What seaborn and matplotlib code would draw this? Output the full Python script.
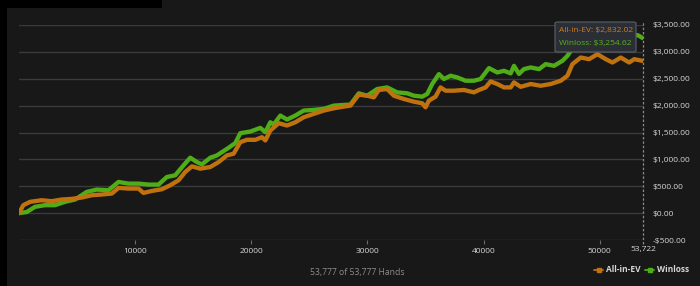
import matplotlib
matplotlib.use("Agg")
import matplotlib.pyplot as plt
import seaborn as sns
import pandas as pd
from matplotlib.patches import Rectangle, FancyBboxPatch
from matplotlib.lines import Line2D
from matplotlib.ticker import FuncFormatter

# ---------------- data ----------------
ev_hands = [0, 373, 948, 1954, 2816, 3678, 4540, 5402, 6264, 7126, 7989, 8563, 9425,
            10287, 10718, 11437, 12299, 13017, 13736, 14310, 14885, 15603, 16466, 17184,
            17902, 18477, 19052, 19626, 20345, 20920, 21207, 21638, 22356, 23075, 23793,
            24511, 25374, 26236, 27098, 27960, 28534, 29253, 29971, 30546, 30977, 31695,
            32270, 33132, 33994, 34713, 35000, 35287, 35862, 36293, 36724, 37442, 38305,
            39167, 39598, 40172, 40603, 41178, 41753, 42328, 42615, 43190, 44052, 44914,
            45776, 46638, 47213, 47644, 48362, 49080, 49799, 50517, 51092, 51810, 52529,
            52960, 53722]
ev_values = [0, 148, 210, 240, 222, 253, 265, 290, 333, 346, 364, 469, 457,
             457, 376, 413, 444, 518, 611, 765, 870, 827, 858, 950,
             1074, 1105, 1321, 1364, 1364, 1413, 1352, 1537, 1673, 1630, 1691,
             1784, 1846, 1908, 1950, 1982, 2000, 2204, 2185, 2154, 2291, 2309,
             2185, 2124, 2074, 2043, 1969, 2093, 2167, 2339, 2278, 2278, 2291,
             2247, 2291, 2339, 2451, 2402, 2339, 2339, 2432, 2350, 2402, 2370,
             2402, 2463, 2556, 2772, 2895, 2864, 2957, 2864, 2802, 2895, 2802,
             2864, 2832.02]

wl_hands = [0, 660, 1379, 2241, 3103, 3966, 4828, 5833, 6695, 7701, 8563, 9425, 10287,
            11149, 12011, 12730, 13448, 14167, 14741, 15316, 15747, 16466, 17040, 18046,
            18621, 19052, 19914, 20776, 21207, 21638, 21925, 22500, 23075, 23793, 24511,
            25374, 26236, 27098, 27960, 28534, 29253, 29971, 30833, 31695, 32557, 33420,
            33994, 34713, 35144, 35575, 36149, 36580, 37155, 37730, 38448, 39167, 39741,
            40460, 41178, 41753, 42328, 42615, 43046, 43477, 44052, 44770, 45345, 46063,
            46782, 47213, 47500, 48200, 49000, 50000, 51000, 52000, 53276, 53722]
wl_values = [0, 20, 117, 148, 148, 210, 253, 395, 438, 426, 580, 549, 549,
             531, 531, 672, 704, 889, 1031, 950, 907, 1031, 1074, 1216,
             1303, 1487, 1518, 1586, 1506, 1691, 1648, 1815, 1741, 1815, 1908,
             1920, 1940, 2000, 2013, 2020, 2229, 2185, 2309, 2339, 2247, 2229,
             2185, 2167, 2217, 2402, 2587, 2495, 2556, 2525, 2463, 2463, 2495,
             2698, 2617, 2648, 2600, 2740, 2590, 2680, 2710, 2679, 2772, 2741,
             2833, 2926, 3019, 3120, 3200, 3260, 3300, 3320, 3310, 3254.62]

y_ticks = [-500, 0, 500, 1000, 1500, 2000, 2500, 3000, 3500]
x_ticks = [10000, 20000, 30000, 40000, 50000]
total_hands = 53722
series_names = ["All-in-EV", "Winloss"]
tooltip_values = [2832.02, 3254.62]
footer_text = "53,777 of 53,777 Hands"

# ---------------- style ----------------
BG = "#181818"
GRID = "#3a3a3a"
ORANGE = "#c0720f"
GREEN = "#4fad17"
TXT = "#d6d6d6"

sns.set_theme(style="dark")
plt.rcParams["font.family"] = ["Open Sans", "DejaVu Sans"]

fig = plt.figure(figsize=(7.0, 2.86), dpi=100, facecolor=BG)
ax = fig.add_axes([19 / 700, 1 - 240 / 286, (643 - 19) / 700, (240 - 25) / 286])
ax.set_facecolor(BG)

ev_df = pd.DataFrame({"hands": ev_hands, "value": ev_values})
wl_df = pd.DataFrame({"hands": wl_hands, "value": wl_values})

sns.lineplot(data=wl_df, x="hands", y="value", ax=ax, color=GREEN, linewidth=3.1,
             zorder=3, estimator=None, sort=False)
sns.lineplot(data=ev_df, x="hands", y="value", ax=ax, color=ORANGE, linewidth=3.1,
             zorder=4, estimator=None, sort=False)

ax.set_xlim(0, total_hands)
ax.set_ylim(-500, 3500)
ax.set_xlabel("")
ax.set_ylabel("")

for s in ax.spines.values():
    s.set_visible(False)

ax.set_yticks(y_ticks)
ax.yaxis.tick_right()
ax.yaxis.set_major_formatter(FuncFormatter(
    lambda v, p: ("-$" if v < 0 else "$") + f"{abs(v):,.2f}"))
ax.tick_params(axis="y", length=0, pad=7, labelsize=6, labelcolor=TXT)
ax.grid(axis="y", color=GRID, linewidth=1.0)
ax.grid(axis="x", visible=False)

ax.set_xticks(x_ticks)
ax.tick_params(axis="x", length=3, width=0.8, color="#6a6a6a", pad=3,
               labelsize=6, labelcolor=TXT, bottom=True)

# dashed crosshair line at last hand
ax.axvline(total_hands, color="#8a8a8a", linewidth=0.9, linestyle=(0, (2, 1.5)),
           ymin=-0.02, ymax=1.02, clip_on=False, zorder=5)
ax.annotate(f"{total_hands:,}", xy=(total_hands, -500), xytext=(0, -7),
            textcoords="offset points", ha="center", va="center",
            fontsize=6, color=TXT, annotation_clip=False)

# legend
handles = [Line2D([0], [0], color=ORANGE, marker="s", markersize=3, linewidth=1.3),
           Line2D([0], [0], color=GREEN, marker="s", markersize=3, linewidth=1.3)]
fig.legend(handles, series_names, loc="center right",
           bbox_to_anchor=(0.995, 1 - 270 / 286),
           bbox_transform=fig.transFigure, ncol=2, frameon=False,
           labelcolor=TXT, handlelength=1.1, handletextpad=0.3, columnspacing=0.6,
           prop={"weight": "bold", "size": 6})

fig.text(357 / 700, 1 - 273 / 286, footer_text, ha="center", va="center",
         fontsize=6.2, color="#8c8c8c")

# tooltip
tip = FancyBboxPatch((555 / 700, 1 - 52 / 286), (636 - 555) / 700, (52 - 22) / 286,
                     boxstyle="round,pad=0,rounding_size=0.004",
                     transform=fig.transFigure, facecolor="#2b2e35",
                     edgecolor="#5a5f68", linewidth=0.8, zorder=10)
fig.patches.append(tip)
fig.text(559 / 700, 1 - 31 / 286, f"{series_names[0]}: ${tooltip_values[0]:,.2f}",
         ha="left", va="center", fontsize=6, color="#cf7c1c", zorder=11)
fig.text(559 / 700, 1 - 44 / 286, f"{series_names[1]}: ${tooltip_values[1]:,.2f}",
         ha="left", va="center", fontsize=6, color="#55b51c", zorder=11)

# black crop borders
fig.patches.append(Rectangle((0, 0), 7 / 700, 1, transform=fig.transFigure,
                             facecolor="black", edgecolor="none", zorder=12))
fig.patches.append(Rectangle((0, 1 - 8 / 286), 162 / 700, 8 / 286,
                             transform=fig.transFigure, facecolor="black",
                             edgecolor="none", zorder=12))

fig.savefig("out.png", dpi=100, facecolor=BG)
